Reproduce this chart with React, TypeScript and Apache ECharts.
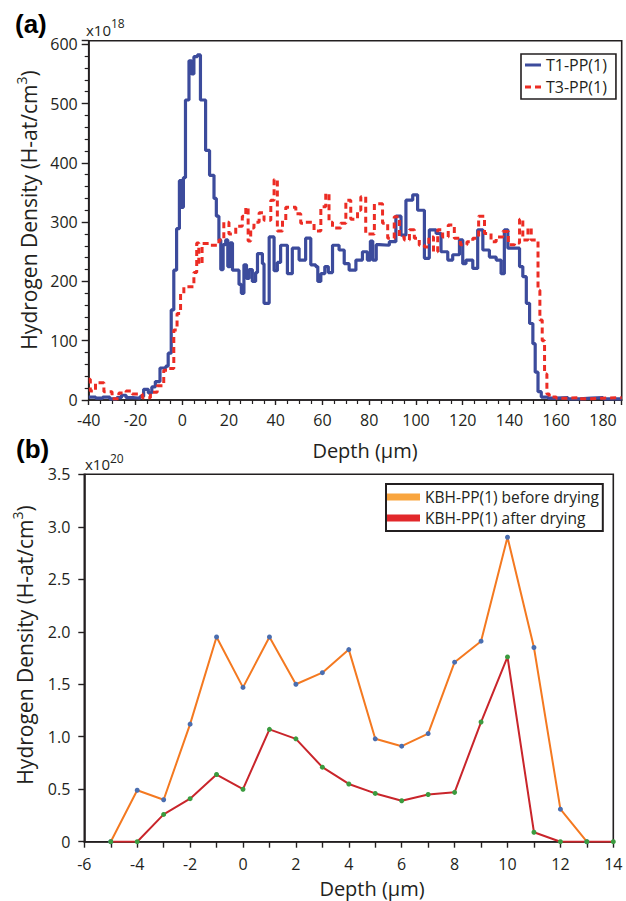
import React, { useEffect, useRef } from "react";
import * as echarts from "echarts";

// ---------- (a) SIMS-like depth profiles, values in x10^18 H-at/cm3 ----------
const t1Depth = [
  -40, -37, -34, -31, -28, -26, -24, -21, -18, -16.5,
  -14.5, -13, -11.5, -9.5, -7, -6, -4.7, -3.6, -2.4, -1.2,
  -0.3, 0.5, 1.4, 2.9, 4, 5, 6.5, 7.8, 10, 11.7,
  13.6, 14.6, 15.7, 16.5, 17.5, 18.6, 19.5, 20.5, 21.5, 24.3,
  25.3, 26.4, 27.5, 28.6, 30, 31.4, 32.2, 34.3, 35, 37.2,
  39.3, 40.7, 42.1, 45, 47.1, 50, 52.8, 55, 57.1, 58,
  59.3, 61, 62.5, 64.3, 67.1, 69.3, 71.4, 74.3, 77.1, 79.2,
  80.5, 81.5, 83, 84.3, 88.6, 91.4, 93.6, 95.7, 98.6, 100.7,
  103.6, 105.7, 108.6, 110.7, 113.6, 115.7, 118.6, 120, 121.4, 124.3,
  126.4, 128.6, 131.4, 134.3, 136.4, 137.8, 139.3, 142.2, 144.3, 145.7,
  147.2, 148.6, 150, 151, 152.2, 153.6, 156.5, 160, 165, 170,
  175, 180, 188,
];
const t1Density = [
  5, 3, 5, 2, 4, 8, 4, 3, 6, 18,
  12, 22, 31, 54, 57, 79, 152, 219, 289, 370,
  325, 375, 506, 572, 550, 579, 582, 506, 421, 379,
  340, 310, 270, 220, 262, 270, 225, 265, 219, 195,
  180, 228, 205, 220, 200, 215, 247, 230, 163, 275,
  218, 232, 261, 213, 256, 236, 273, 228, 225, 200,
  213, 225, 215, 261, 253, 230, 219, 236, 250, 236,
  268, 236, 262, 261, 267, 310, 278, 337, 346, 320,
  239, 287, 281, 250, 236, 245, 270, 230, 236, 222,
  287, 253, 241, 236, 213, 287, 256, 256, 225, 208,
  163, 129, 95, 47, 14, 5, 3, 4, 2, 3,
  4, 2, 2,
];
const t3Depth = [
  -40, -39.3, -37.1, -33.5, -30, -27.1, -24, -21.4, -17.1, -13.6,
  -10.7, -7.9, -5.7, -3.6, -2.2, -0.7, 0.7, 5, 6.2, 7.1,
  8.5, 11.4, 15.7, 17.8, 20, 22.9, 25.7, 27.2, 28.2, 29.3,
  30.7, 32.9, 35, 37.9, 39.3, 40.7, 42.9, 44.3, 48.6, 50.7,
  52.8, 56.4, 59.3, 61.4, 62.8, 64.3, 67.8, 70, 72.1, 75,
  76.4, 78.5, 82.2, 85.7, 87.9, 90.7, 92.9, 95, 97.2, 99.3,
  101.4, 103.6, 105.5, 107.5, 109.3, 111.4, 113.8, 116.4, 119, 121.8,
  124.3, 126.8, 129.3, 132.1, 134.3, 137.1, 139.5, 142.2, 144.3, 145.7,
  147.9, 149.3, 152.2, 153, 154, 155, 156, 157, 160, 165,
  170, 175, 180, 188,
];
const t3Density = [
  35, 15, 29, 14, 2, 12, 15, 10, 4, 13,
  24, 50, 53, 118, 146, 180, 191, 215, 265, 230,
  264, 261, 270, 300, 280, 293, 310, 325, 268, 290,
  300, 316, 303, 337, 372, 285, 303, 325, 314, 298,
  300, 285, 326, 348, 300, 290, 298, 337, 305, 320,
  343, 280, 331, 298, 273, 309, 275, 270, 287, 273,
  261, 258, 275, 250, 287, 275, 295, 273, 262, 267,
  273, 310, 281, 267, 275, 284, 262, 265, 305, 270,
  290, 270, 185, 135, 100, 44, 10, 5, 3, 4,
  2, 3, 4, 3,
];

// ---------- (b) values in x10^20 H-at/cm3 ----------
const kbhDepthBefore = [-5, -4, -3, -2, -1, 0, 1, 2, 3, 4, 5, 6, 7, 8, 9, 10, 11, 12, 13];
const kbhBefore = [0, 0.49, 0.4, 1.12, 1.95, 1.47, 1.95, 1.5, 1.61, 1.83, 0.98, 0.91, 1.03, 1.71, 1.91, 2.9, 1.85, 0.31, 0];
const kbhDepthAfter = [-5, -4, -3, -2, -1, 0, 1, 2, 3, 4, 5, 6, 7, 8, 9, 10, 11, 12, 13, 14];
const kbhAfter = [0, 0, 0.26, 0.41, 0.64, 0.5, 1.07, 0.98, 0.71, 0.55, 0.46, 0.39, 0.45, 0.47, 1.14, 1.76, 0.09, 0, 0, 0];

const seriesNamesA = ["T1-PP(1)", "T3-PP(1)"];
const seriesNamesB = ["KBH-PP(1) before drying", "KBH-PP(1) after drying"];

const FONT = "'Open Sans', 'DejaVu Sans', sans-serif";
const INK = "#231f20";

const zip = (xs: number[], ys: number[]) => xs.map((x, i) => [x, ys[i]]);

export default function App() {
  const ref = useRef<HTMLDivElement>(null);

  useEffect(() => {
    const chart = echarts.init(ref.current!, null, { renderer: "svg" });

    const axisCommon = (extra: any) => ({
      type: "value",
      axisLine: { show: true, onZero: false, lineStyle: { color: INK, width: 1.6 } },
      splitLine: { show: false },
      axisLabel: { color: INK, fontSize: 16, fontFamily: FONT, showMaxLabel: false },
      ...extra,
    });

    const titleRich = (size: number, sup: number) => ({
      m: { fontSize: size, fontFamily: FONT, fill: INK, color: INK, lineHeight: size + 8 },
      s: { fontSize: sup, fontFamily: FONT, fill: INK, color: INK, verticalAlign: "top", lineHeight: sup + 1 },
    });

    const option: any = {
      animation: false,
      backgroundColor: "#ffffff",
      grid: [
        { left: 88.7, top: 40.7, width: 533, height: 359.3, show: true, borderColor: INK, borderWidth: 1.6, backgroundColor: "transparent", outerBoundsMode: "none" },
        { left: 84.3, top: 474.3, width: 529, height: 367.4, show: true, borderColor: INK, borderWidth: 1.6, backgroundColor: "transparent", outerBoundsMode: "none" },
      ],
      xAxis: [
        axisCommon({
          gridIndex: 0, min: -40, max: 188, interval: 20,
          axisTick: { show: true, length: 5, lineStyle: { color: INK, width: 1.4 } },
          minorTick: { show: true, splitNumber: 4, length: 4, lineStyle: { color: INK, width: 1.2 } },
          axisLabel: { color: INK, fontSize: 16, fontFamily: FONT, showMaxLabel: false, margin: 12, formatter: (v: number) => String(v) },
        }),
        axisCommon({
          gridIndex: 1, min: -6, max: 14, interval: 2,
          axisTick: { show: true, length: 6, lineStyle: { color: INK, width: 1.4 } },
          minorTick: { show: true, splitNumber: 2, length: 6, lineStyle: { color: INK, width: 1.4 } },
          axisLabel: { color: INK, fontSize: 16, fontFamily: FONT, showMaxLabel: true, margin: 14, formatter: (v: number) => String(v) },
        }),
      ],
      yAxis: [
        axisCommon({
          gridIndex: 0, min: 0, max: 606, interval: 100,
          axisTick: { show: true, length: 7, lineStyle: { color: INK, width: 1.4 } },
          minorTick: { show: true, splitNumber: 5, length: 4, lineStyle: { color: INK, width: 1.2 } },
          axisLabel: { color: INK, fontSize: 16, fontFamily: FONT, showMaxLabel: false, margin: 11, formatter: (v: number) => String(v) },
        }),
        axisCommon({
          gridIndex: 1, min: 0, max: 3.5, interval: 0.5,
          axisTick: { show: true, length: 6, lineStyle: { color: INK, width: 1.4 } },
          axisLabel: { color: INK, fontSize: 16, fontFamily: FONT, showMaxLabel: true, margin: 14, formatter: (v: number) => (v === 0 ? "0" : v.toFixed(1)) },
        }),
      ],
      legend: [
        {
          data: [
            { name: seriesNamesA[0], icon: "rect", itemStyle: { color: "#3c4b9c", borderWidth: 0 } },
            { name: seriesNamesA[1], icon: "path://M0,0H6V3H0ZM10,0H16V3H10Z", itemStyle: { color: "#ec2c24", borderWidth: 0 } },
          ],
          orient: "vertical", left: 521, top: 54,
          itemWidth: 16, itemHeight: 3, itemGap: 2,
          padding: [1, 9, 2, 4],
          borderColor: INK, borderWidth: 1.6,
          selectedMode: false,
          itemStyle: { borderWidth: 0 },
          textStyle: { color: INK, fontSize: 16, fontFamily: FONT, lineHeight: 20 },
        },
        {
          data: [
            { name: seriesNamesB[0], icon: "rect", itemStyle: { color: "#f9a53e", borderWidth: 0 } },
            { name: seriesNamesB[1], icon: "rect", itemStyle: { color: "#e2282b", borderWidth: 0 } },
          ],
          orient: "vertical", left: 386, top: 484,
          itemWidth: 33, itemHeight: 7, itemGap: 1,
          padding: [3, 4, 3, 1],
          borderColor: INK, borderWidth: 2,
          selectedMode: false,
          itemStyle: { borderWidth: 0 },
          textStyle: { color: INK, fontSize: 15.5, fontFamily: FONT, lineHeight: 20 },
        },
      ],
      series: [
        {
          type: "line", name: seriesNamesA[0], xAxisIndex: 0, yAxisIndex: 0,
          data: zip(t1Depth, t1Density), step: "end",
          symbol: "none", showSymbol: false,
          color: "#3c4b9c",
          lineStyle: { color: "#3c4b9c", width: 3.2 },
          emphasis: { disabled: true },
        },
        {
          type: "line", name: seriesNamesA[1], xAxisIndex: 0, yAxisIndex: 0,
          data: zip(t3Depth, t3Density), step: "end",
          symbol: "none", showSymbol: false,
          color: "#ec2c24",
          lineStyle: { color: "#ec2c24", width: 3, type: [6, 4] },
          emphasis: { disabled: true },
        },
        {
          type: "line", name: seriesNamesB[0], xAxisIndex: 1, yAxisIndex: 1,
          data: zip(kbhDepthBefore, kbhBefore),
          symbol: "circle", symbolSize: 5, showSymbol: true,
          itemStyle: { color: "#4a6eb0" },
          lineStyle: { color: "#f47920", width: 2 },
          emphasis: { disabled: true },
        },
        {
          type: "line", name: seriesNamesB[1], xAxisIndex: 1, yAxisIndex: 1,
          data: zip(kbhDepthAfter, kbhAfter),
          symbol: "circle", symbolSize: 5, showSymbol: true,
          itemStyle: { color: "#3b9b3f" },
          lineStyle: { color: "#c9252b", width: 2 },
          emphasis: { disabled: true },
        },
      ],
      graphic: [
        { type: "text", x: 15, y: 24, style: { text: "(a)", fontSize: 26, fontWeight: "bold", fontFamily: "'Liberation Sans', Arial, sans-serif", fill: "#000", align: "left", verticalAlign: "middle" } },
        { type: "text", x: 16, y: 449, style: { text: "(b)", fontSize: 26, fontWeight: "bold", fontFamily: "'Liberation Sans', Arial, sans-serif", fill: "#000", align: "left", verticalAlign: "middle" } },
        { type: "text", x: 86, y: 30, style: { text: "{m|x10}{s|18}", rich: { m: { fontSize: 15, fontFamily: FONT, fill: INK, lineHeight: 26 }, s: { fontSize: 12, fontFamily: FONT, fill: INK, verticalAlign: "top", lineHeight: 13 } }, align: "left", verticalAlign: "middle" } },
        { type: "text", x: 85, y: 464, style: { text: "{m|x10}{s|20}", rich: { m: { fontSize: 15, fontFamily: FONT, fill: INK, lineHeight: 24 }, s: { fontSize: 12, fontFamily: FONT, fill: INK, verticalAlign: "top", lineHeight: 13 } }, align: "left", verticalAlign: "middle" } },
        { type: "text", x: 29, y: 210, rotation: Math.PI / 2, style: { text: "{m|Hydrogen Density (H-at/cm}{s|3}{m|)}", rich: titleRich(21, 14), align: "center", verticalAlign: "middle" } },
        { type: "text", x: 25, y: 645, rotation: Math.PI / 2, style: { text: "{m|Hydrogen Density (H-at/cm}{s|3}{m|)}", rich: titleRich(21, 14), align: "center", verticalAlign: "middle" } },
        { type: "text", x: 365, y: 450, style: { text: "Depth (µm)", fontSize: 20, fontFamily: FONT, fill: INK, align: "center", verticalAlign: "middle" } },
        { type: "text", x: 372, y: 888, style: { text: "Depth (µm)", fontSize: 20, fontFamily: FONT, fill: INK, align: "center", verticalAlign: "middle" } },
      ],
    };

    chart.setOption(option);
    return () => chart.dispose();
  }, []);

  return <div ref={ref} style={{ position: "fixed", left: 0, top: 0, width: 626, height: 901 }} />;
}
